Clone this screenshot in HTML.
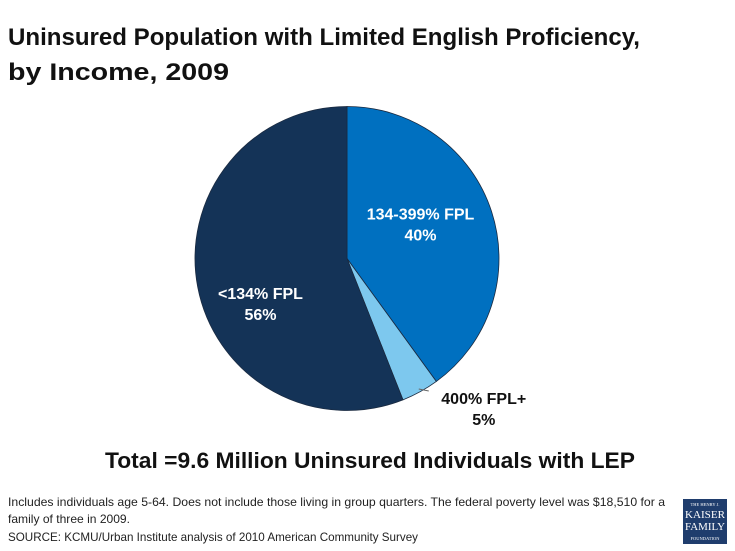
<!DOCTYPE html>
<html><head><meta charset="utf-8"><style>
html,body{margin:0;padding:0;background:#fff;}
svg{display:block;font-family:"Liberation Sans",sans-serif;}
</style></head><body>
<svg width="735" height="551" viewBox="0 0 735 551">
<text x="8" y="45" font-size="24" font-weight="bold" fill="#111" textLength="632" lengthAdjust="spacingAndGlyphs">Uninsured Population with Limited English Proficiency,</text>
<text x="8" y="80" font-size="24" font-weight="bold" fill="#111" textLength="221" lengthAdjust="spacingAndGlyphs">by Income, 2009</text>
<g id="pie"></g>
<text x="105" y="468" font-size="22" font-weight="bold" fill="#111" textLength="530" lengthAdjust="spacingAndGlyphs">Total =9.6 Million Uninsured  Individuals with LEP</text>
<text x="8" y="506" font-size="12" fill="#222" textLength="657" lengthAdjust="spacingAndGlyphs">Includes individuals age 5-64. Does not include those living in group quarters. The federal poverty level was $18,510 for a</text>
<text x="8" y="523" font-size="12" fill="#222" textLength="122" lengthAdjust="spacingAndGlyphs">family of three in 2009.</text>
<text x="8" y="541" font-size="12" fill="#222" textLength="410" lengthAdjust="spacingAndGlyphs">SOURCE: KCMU/Urban Institute analysis of 2010 American Community Survey</text>
<g>
<rect x="683" y="499" width="44" height="45" fill="#1f3d6d"/>
<text x="705" y="506" font-size="4.5" fill="#fff" text-anchor="middle" font-family="Liberation Serif,serif">THE HENRY J.</text>
<text x="705" y="518" font-size="10" fill="#fff" text-anchor="middle" font-family="Liberation Serif,serif" textLength="40" lengthAdjust="spacingAndGlyphs">KAISER</text>
<text x="705" y="530" font-size="10" fill="#fff" text-anchor="middle" font-family="Liberation Serif,serif" textLength="40" lengthAdjust="spacingAndGlyphs">FAMILY</text>
<text x="705" y="540" font-size="4.5" fill="#fff" text-anchor="middle" font-family="Liberation Serif,serif">FOUNDATION</text>
</g>
</svg>
<script>
const categories = ["134-399% FPL", "400% FPL+", "<134% FPL"];
const sliceValues = [40, 4, 56];
const valueLabels = ["40%", "5%", "56%"];
const colors = ["#0070c0", "#7dc8ee", "#143357"];
const cx = 347, cy = 258.5, r = 152;
const NS = "http://www.w3.org/2000/svg";
const g = document.getElementById("pie");
const total = sliceValues.reduce((a,b)=>a+b,0);
function pt(frac, rad){ const a = frac*2*Math.PI; return [cx + rad*Math.sin(a), cy - rad*Math.cos(a)]; }
let cum = 0;
sliceValues.forEach((v,i)=>{
  const s = cum/total, e = (cum+v)/total; cum += v;
  const [x1,y1] = pt(s,r), [x2,y2] = pt(e,r);
  const p = document.createElementNS(NS,"path");
  p.setAttribute("d",`M${cx},${cy}L${x1},${y1}A${r},${r} 0 ${(e-s)>0.5?1:0} 1 ${x2},${y2}Z`);
  p.setAttribute("fill",colors[i]); p.setAttribute("stroke","#1a2a40"); p.setAttribute("stroke-width","0.8");
  
  
  g.appendChild(p);
  const mid = (s+e)/2;
  let lx, ly, fill = "#fff", anchor = "middle";
  if (v/total < 0.1) {
    const [ax,ay] = pt(mid, r*0.98);
    const ln = document.createElementNS(NS,"line");
    ln.setAttribute("x1",ax); ln.setAttribute("y1",ay); ln.setAttribute("x2",ax+10); ln.setAttribute("y2",ay+2);
    ln.setAttribute("stroke","#666"); ln.setAttribute("stroke-width","1");
    
    
    g.appendChild(ln);
    lx = ax + 65; ly = ay + 15; fill = "#111";
  } else if (v/total > 0.5) {
    [lx, ly] = pt(s + 0.41*(e-s), 100); lx += 1; ly -= 8;
  } else {
    [lx, ly] = pt(mid, r*0.55); lx -= 6; ly -= 13;
  }
  const t1 = document.createElementNS(NS,"text");
  t1.setAttribute("x",lx); t1.setAttribute("y",ly); t1.setAttribute("text-anchor",anchor);
  t1.setAttribute("font-size","16"); t1.setAttribute("font-weight","bold"); t1.setAttribute("fill",fill);
  t1.textContent = categories[i];
  
  
  g.appendChild(t1);
  const t2 = document.createElementNS(NS,"text");
  t2.setAttribute("x",lx); t2.setAttribute("y",ly+21); t2.setAttribute("text-anchor",anchor);
  t2.setAttribute("font-size","16"); t2.setAttribute("font-weight","bold"); t2.setAttribute("fill",fill);
  t2.textContent = valueLabels[i];
  
  
  g.appendChild(t2);
});
</script>
</body></html>
